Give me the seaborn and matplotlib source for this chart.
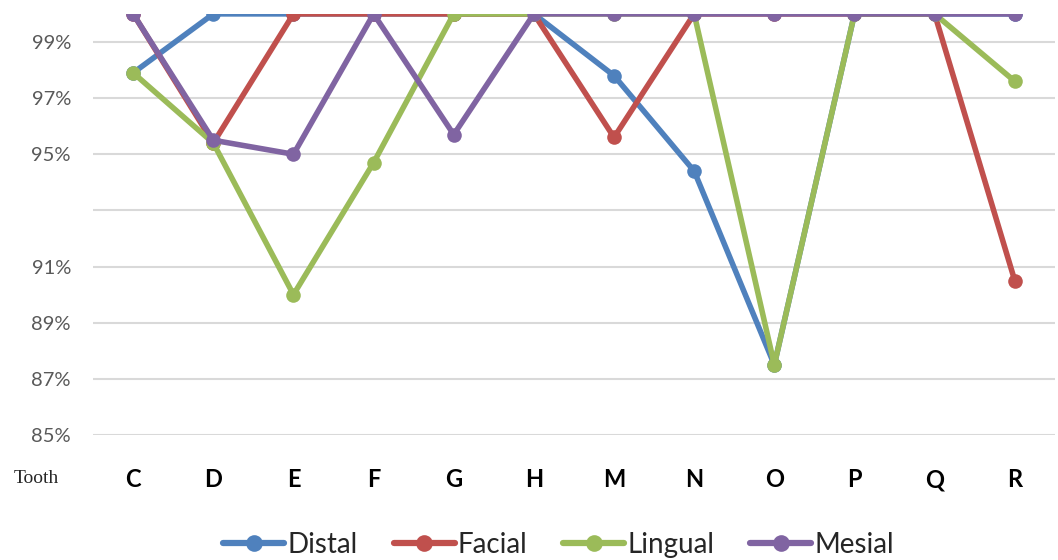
import pandas as pd
import matplotlib
matplotlib.use('Agg')
import matplotlib.pyplot as plt
import seaborn as sns

teeth = ['C', 'D', 'E', 'F', 'G', 'H', 'M', 'N', 'O', 'P', 'Q', 'R']
distal = [97.9, 100, 100, 100, 100, 100, 97.8, 94.4, 87.5, 100, 100, 100]
facial = [100, 95.4, 100, 100, 100, 100, 95.6, 100, 100, 100, 100, 90.5]
lingual = [97.9, 95.4, 90.0, 94.7, 100, 100, 100, 100, 87.5, 100, 100, 97.6]
mesial = [100, 95.5, 95.0, 100, 95.7, 100, 100, 100, 100, 100, 100, 100]
surfaces = ['Distal', 'Facial', 'Lingual', 'Mesial']
y_ticks = [85, 87, 89, 91, 93, 95, 97, 99]
y_labels = ['85%', '87%', '89%', '91%', '', '95%', '97%', '99%']

rows = []
for name, vals in zip(surfaces, [distal, facial, lingual, mesial]):
    for i, t in enumerate(teeth):
        rows.append({'pos': i, 'tooth': t, 'surface': name, 'pct': vals[i]})
df = pd.DataFrame(rows)

sns.set_style('white')
plt.rcParams['font.family'] = ['Lato', 'DejaVu Sans']

fig = plt.figure(figsize=(10.58, 5.6), dpi=100)
ax = fig.add_axes([0.088, 0.2232, 0.909, 0.752])

palette = {'Distal': '#4F81BD', 'Facial': '#C0504D', 'Lingual': '#9BBB59', 'Mesial': '#8064A2'}
sns.lineplot(data=df, x='pos', y='pct', hue='surface', hue_order=surfaces, palette=palette,
             marker='o', markersize=10.5, markeredgewidth=0, linewidth=4, ax=ax)

ax.set_xlim(-0.5, len(teeth) - 0.5)
ax.set_ylim(85, 100)
ax.set_xticks(range(len(teeth)))
ax.set_xticklabels(teeth, fontsize=17, fontweight='bold', color='black')
ax.set_yticks(y_ticks)
ax.set_yticklabels(y_labels, fontsize=14.5, color='#595959')
ax.tick_params(axis='both', length=0)
ax.tick_params(axis='x', pad=24)
ax.tick_params(axis='y', pad=16)
ax.grid(axis='y', color='#D9D9D9', linewidth=1.5)
ax.set_axisbelow(True)
for s in ax.spines.values():
    s.set_visible(False)
ax.set_xlabel('')
ax.set_ylabel('')

fig.text(0.013, 0.146, 'Tooth', fontsize=14, family='Liberation Serif', va='center', ha='left')

handles, labels = ax.get_legend_handles_labels()
ax.legend_.remove()
for h in handles:
    h.set_markersize(12)
    h.set_linewidth(4.5)
fig.legend(handles, labels, loc='center', bbox_to_anchor=(0.528, 0.027), ncol=4, frameon=False,
           fontsize=20, handlelength=2.2, handletextpad=0.1, columnspacing=1.3, borderpad=0)

fig.savefig('out.png', dpi=100)
